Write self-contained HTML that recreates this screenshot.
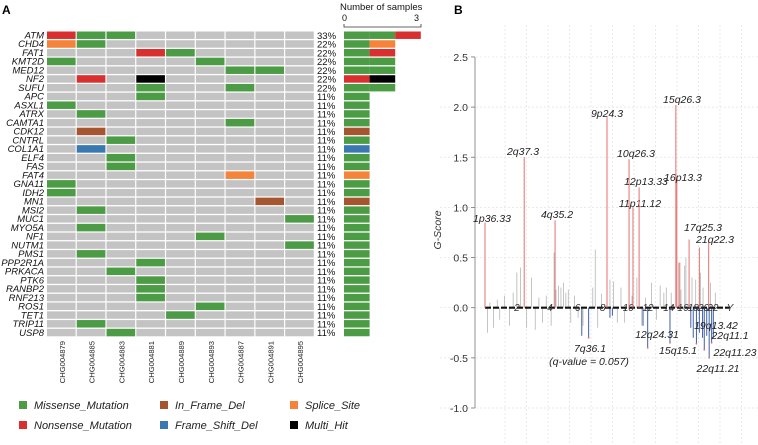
<!DOCTYPE html>
<html><head><meta charset="utf-8"><style>
html,body{margin:0;padding:0;background:#fff}
svg{display:block;font-family:"Liberation Sans",Arial,sans-serif}
</style></head><body>
<svg id="fig" width="758" height="445" viewBox="0 0 758 445" xmlns="http://www.w3.org/2000/svg">
<text x="2" y="14" font-size="12" font-weight="bold">A</text>
<text x="454" y="14" font-size="12" font-weight="bold">B</text>
<g id="onco"></g>
<g id="legend"></g>
<g id="gplot"></g>
</svg>
<script>
const NS='http://www.w3.org/2000/svg';
const genes=['ATM','CHD4','FAT1','KMT2D','MED12','NF2','SUFU','APC','ASXL1','ATRX','CAMTA1','CDK12','CNTRL','COL1A1','ELF4','FAS','FAT4','GNA11','IDH2','MN1','MSI2','MUC1','MYO5A','NF1','NUTM1','PMS1','PPP2R1A','PRKACA','PTK6','RANBP2','RNF213','ROS1','TET1','TRIP11','USP8'];
const samples=['CHG004879','CHG004885','CHG004883','CHG004881','CHG004889','CHG004893','CHG004887','CHG004891','CHG004895'];
const pct=['33%','22%','22%','22%','22%','22%','22%','11%','11%','11%','11%','11%','11%','11%','11%','11%','11%','11%','11%','11%','11%','11%','11%','11%','11%','11%','11%','11%','11%','11%','11%','11%','11%','11%','11%'];
const mutations=[[[0,'N'],[1,'M'],[2,'M']],[[0,'S'],[1,'M']],[[3,'N'],[4,'M']],[[0,'M'],[5,'M']],[[6,'M'],[7,'M']],[[1,'N'],[3,'X']],[[3,'M'],[6,'M']],[[3,'M']],[[0,'M']],[[1,'M']],[[6,'M']],[[1,'I']],[[2,'M']],[[1,'F']],[[2,'M']],[[2,'M']],[[6,'S']],[[0,'M']],[[0,'M']],[[7,'I']],[[1,'M']],[[8,'M']],[[1,'M']],[[5,'M']],[[8,'M']],[[1,'M']],[[3,'M']],[[2,'M']],[[3,'M']],[[3,'M']],[[3,'M']],[[5,'M']],[[4,'M']],[[1,'M']],[[2,'M']]];
const typeOrder=['M','N','S','I','F','X'];
const typeColor={M:'#4b9c45',N:'#d9302f',S:'#f5833a',I:'#a5552f',F:'#3a78b1',X:'#000'};
const legendItems=[['M','Missense_Mutation'],['I','In_Frame_Del'],['S','Splice_Site'],['N','Nonsense_Mutation'],['F','Frame_Shift_Del'],['X','Multi_Hit']];

function mk(tag,attrs,parent,text){const e=document.createElementNS(NS,tag);for(const k in attrs)e.setAttribute(k,attrs[k]);if(text!=null)e.textContent=text;parent.appendChild(e);return e;}

const onco=document.getElementById('onco');
const gx0=47,gx1=315,gy0=31.5,pitch=8.745;
const cw=(gx1-gx0)/samples.length;
genes.forEach((g,r)=>{
  const y=gy0+r*pitch;
  for(let c=0;c<samples.length;c++){
    const e=mk('rect',{x:gx0+c*cw,y:y,width:cw-1.2,height:pitch-1.3,fill:'#c3c3c3'},onco);
    
    
  }
  mutations[r].forEach(m=>{
    const e=mk('rect',{x:gx0+m[0]*cw,y:y,width:cw-1.2,height:pitch-1.3,fill:typeColor[m[1]]},onco);
    
    
  });
  const t=mk('text',{x:44,y:y+7,'font-size':9.5,'font-style':'italic','text-anchor':'end',fill:'#111'},onco,g);
  
  
  const p=mk('text',{x:317,y:y+7.3,'font-size':9.5,fill:'#111'},onco,pct[r]);
  
  
  const sorted=mutations[r].map(m=>m[1]).sort((a,b)=>typeOrder.indexOf(a)-typeOrder.indexOf(b));
  sorted.forEach((tp,i)=>{
    const b=mk('rect',{x:344+i*25.6,y:y,width:25.6,height:pitch-1.3,fill:typeColor[tp]},onco);
    
    
  });
});
samples.forEach((s,c)=>{
  const cx=gx0+c*cw+cw/2+3;
  const t=mk('text',{x:0,y:0,'font-size':7.6,'text-anchor':'end',fill:'#222',transform:`translate(${cx},341) rotate(-90)`},onco,s);
  
  
});
const ax=mk('path',{d:'M344,24 L344,27 L421,27 L421,24',stroke:'#333',fill:'none','stroke-width':0.8},onco);

let t1=mk('text',{x:340,y:10,'font-size':9.5,fill:'#111'},onco,'Number of samples');
let t2=mk('text',{x:342,y:21,'font-size':9,fill:'#111'},onco,'0');
let t3=mk('text',{x:414,y:21,'font-size':9,fill:'#111'},onco,'3');

const leg=document.getElementById('legend');
const lx=[19,160,290];
legendItems.forEach((it,i)=>{
  const x=lx[i%3],y=i<3?401:421;
  const s=mk('rect',{x:x,y:y,width:8,height:8,fill:typeColor[it[0]]},leg);
  
  
  const t=mk('text',{x:x+15,y:y+8,'font-size':11,'font-style':'italic',fill:'#222'},leg,it[1]);
  
  
});

// ---------- Panel B ----------
const yTicks=[2.5,2.0,1.5,1.0,0.5,0.0,-0.5,-1.0];
const yTickLabels=['2.5','2.0','1.5','1.0','0.5','0.0','-0.5','-1.0'];
const chromLabels=['2','4','6','8','10','12','14','16','18','20','22','Y'];
const chromPos=[13,26.5,37.8,48,58.5,66.5,75,80.8,85,89.2,93,100];
const peakNames=['1p36.33','2q37.3','4q35.2','9p24.3','10q26.3','11p11.12','12p13.33','15q26.3','16p13.3','17q25.3','21q22.3'];
const peakPos=[0,16,28.6,49.8,58.8,60.4,62.9,77.9,78.3,83.3,91.3];
const peakScore=[0.85,1.5,0.87,1.9,1.48,1.0,1.2,2.02,1.3,0.68,0.65];
const ampExtraPos=[87.5,79.5];
const ampExtraScore=[0.6,0.45];
const delNames=['7q36.1','12q24.31','15q15.1','19q13.42','22q11.1','22q11.23','22q11.21'];
const delPos=[42.3,66.4,75.5,86.3,92.5,89.5,91.5];
const delScore=[-0.3,-0.4,-0.35,-0.36,-0.35,-0.42,-0.5];
const bluePos=[39.5,42.3,51,52,66.4,64.5,75.5,84,85,86.3,87.5,88.8,89.5,90.5,91.5,92.5,93.2];
const blueScore=[-0.28,-0.3,-0.1,-0.08,-0.4,-0.18,-0.35,-0.2,-0.3,-0.36,-0.25,-0.3,-0.42,-0.28,-0.5,-0.35,-0.3];
const grayPos=[1,2,3.5,5,6,8,10,11.5,13,14.5,17,19,20.5,22,23.5,25,27,28.2,29,30,31,32,33,34,35,36.5,38,40,44,45,46,47.5,51,52.5,54,55.5,57,60,62,64,65.5,68,70,71.5,73,74,76,79,80,81.5,82,84.5,86,88,89,92,94];
const grayScore=[-0.25,0.05,-0.2,0.08,-0.12,0.12,-0.18,0.15,0.35,0.4,-0.2,0.3,-0.22,0.1,-0.15,0.12,-0.18,0.55,0.18,0.22,0.2,0.25,0.15,0.18,-0.15,0.12,-0.1,-0.18,0.2,0.58,-0.2,0.14,0.28,0.26,-0.15,0.2,-0.15,0.12,0.3,-0.18,0.1,0.25,-0.12,0.22,0.15,0.2,0.15,0.45,0.18,0.42,0.5,0.3,0.28,0.35,0.2,0.25,0.15];

const gp=document.getElementById('gplot');
const X0=485,X1=730,Y0=307.7,YU=100.3;
const xs=p=>X0+p*(X1-X0)/100;
const ys=v=>Y0-v*YU;
for(let gx=505;gx<=760;gx+=21.5){const l=mk('line',{x1:gx,x2:gx,y1:25,y2:445,stroke:'#e2e2e2','stroke-dasharray':'2,2','stroke-width':0.7},gp);}
for(let v=2.5;v>=-1.0;v-=0.5){const l=mk('line',{x1:440,x2:758,y1:ys(v),y2:ys(v),stroke:'#e2e2e2','stroke-dasharray':'2,2','stroke-width':0.7},gp);}
let ya=mk('line',{x1:475,x2:475,y1:ys(2.5),y2:ys(-1.0),stroke:'#777','stroke-width':0.8},gp);
yTicks.forEach((v,i)=>{
  const tk=mk('line',{x1:471,x2:475,y1:ys(v),y2:ys(v),stroke:'#777','stroke-width':0.8},gp);
  
  const t=mk('text',{x:468,y:ys(v)+4,'font-size':10.5,'text-anchor':'end',fill:'#333'},gp,yTickLabels[i]);
  
});
let yt=mk('text',{x:0,y:0,'font-size':10.5,'font-style':'italic','text-anchor':'middle',fill:'#333',transform:'translate(441,230) rotate(-90)'},gp,'G-Score');

grayPos.forEach((p,i)=>{const l=mk('line',{x1:xs(p),x2:xs(p),y1:Y0,y2:ys(grayScore[i]),stroke:'#b5b5b5','stroke-width':0.8},gp);});
bluePos.forEach((p,i)=>{const l=mk('line',{x1:xs(p),x2:xs(p),y1:Y0,y2:ys(blueScore[i]),stroke:'#3e5fa8','stroke-width':1},gp);});
let bl=mk('line',{x1:xs(0),x2:xs(100),y1:Y0,y2:Y0,stroke:'#111','stroke-width':2.2,'stroke-dasharray':'6,2'},gp);
chromLabels.forEach((c,i)=>{const t=mk('text',{x:xs(chromPos[i]),y:Y0+3.5,'font-size':10,'font-style':'italic','text-anchor':'middle',fill:'#333'},gp,c);});
ampExtraPos.forEach((p,i)=>{const l=mk('line',{x1:xs(p),x2:xs(p),y1:Y0,y2:ys(ampExtraScore[i]),stroke:'#e8706e','stroke-width':1},gp);});
const lblAbs=[[492,222],[523,155],[557,218],[607,117],[636,157],[640,207],[646,185],[682,103],[683,181],[703,231],[715,243]];
peakNames.forEach((n,i)=>{
  const l=mk('line',{x1:xs(peakPos[i]),x2:xs(peakPos[i]),y1:Y0,y2:ys(peakScore[i]),stroke:'#e8706e','stroke-width':1},gp);
  
  const t=mk('text',{x:lblAbs[i][0],y:lblAbs[i][1],'font-size':10.5,'font-style':'italic','text-anchor':'middle',fill:'#222'},gp,n);
  
});
const delLbl=[[590,352],[657,338],[678,354],[716,329],[730,339],[735,356],[718,372]];
delNames.forEach((n,i)=>{
  const t=mk('text',{x:delLbl[i][0],y:delLbl[i][1],'font-size':10.5,'font-style':'italic','text-anchor':'middle',fill:'#222'},gp,n);
  
  const d=mk('circle',{cx:xs(delPos[i]),cy:ys(delScore[i]),r:0.9,fill:'#e8706e'},gp);
  
});
let qv=mk('text',{x:589,y:365,'font-size':10.5,'font-style':'italic','text-anchor':'middle',fill:'#222'},gp,'(q-value = 0.057)');

</script>
</body></html>
